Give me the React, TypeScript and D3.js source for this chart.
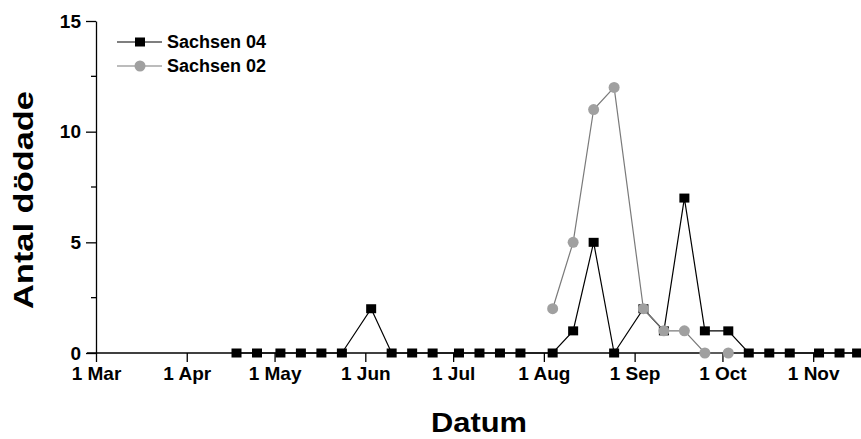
import React, { useRef, useEffect } from 'react';
import * as d3 from 'd3';

// weekly samples, Sachsen 04
const datesS04 = [
  '2004-04-18', '2004-04-25', '2004-05-03', '2004-05-10', '2004-05-17', '2004-05-24',
  '2004-06-03', '2004-06-10', '2004-06-17', '2004-06-24', '2004-07-03', '2004-07-10',
  '2004-07-17', '2004-07-24', '2004-08-04', '2004-08-11', '2004-08-18', '2004-08-25',
  '2004-09-04', '2004-09-11', '2004-09-18', '2004-09-25', '2004-10-03', '2004-10-10',
  '2004-10-17', '2004-10-24', '2004-11-03', '2004-11-10', '2004-11-16',
];
const valuesS04 = [
  0, 0, 0, 0, 0, 0,
  2, 0, 0, 0, 0, 0,
  0, 0, 0, 1, 5, 0,
  2, 1, 7, 1, 1, 0,
  0, 0, 0, 0, 0,
];

// Sachsen 02
const datesS02 = [
  '2004-08-04', '2004-08-11', '2004-08-18', '2004-08-25', '2004-09-04',
  '2004-09-11', '2004-09-18', '2004-09-25', '2004-10-03',
];
const valuesS02 = [2, 5, 11, 12, 2, 1, 1, 0, 0];

const seriesNames = ['Sachsen 04', 'Sachsen 02'];
const yTicks = [0, 5, 10, 15];
const yMinorTicks = [2.5, 7.5, 12.5];
const xTicks = [
  '2004-03-01', '2004-04-01', '2004-05-01', '2004-06-01', '2004-07-01',
  '2004-08-01', '2004-09-01', '2004-10-01', '2004-11-01',
];
const xStart = '2004-03-01';
const xEnd = '2004-12-01';

const W = 861;
const H = 439;
const FONT = 'Arial, "Liberation Sans", Helvetica, sans-serif';

const App: React.FC = () => {
  const ref = useRef<SVGSVGElement | null>(null);

  useEffect(() => {
    const svg = d3.select(ref.current);
    svg.selectAll('*').remove();

    const parse = d3.timeParse('%Y-%m-%d');
    const x = d3.scaleTime()
      .domain([parse(xStart)!, parse(xEnd)!])
      .range([96, 901]);
    const y = d3.scaleLinear().domain([0, 15]).range([353, 21]);

    // x axis
    const xAxis = d3.axisBottom<Date>(x)
      .tickValues(xTicks.map((d) => parse(d)!))
      .tickFormat(d3.timeFormat('%-d %b') as any)
      .tickSize(9)
      .tickPadding(5)
      .tickSizeOuter(0);
    const gx = svg.append('g').attr('transform', `translate(0,${y(0)})`).call(xAxis);
    gx.select('.domain').remove();
    gx.append('line')
      .attr('x1', 87).attr('x2', W).attr('y1', 0).attr('y2', 0)
      .attr('stroke', '#000').attr('stroke-width', 1.3);
    gx.selectAll('.tick line').attr('stroke', '#000').attr('stroke-width', 1.3);
    gx.selectAll('.tick text')
      .attr('fill', '#000')
      .style('font-family', FONT)
      .style('font-size', '19px')
      .style('font-weight', 'bold');

    // y axis
    const yAxis = d3.axisLeft(y)
      .tickValues(yTicks)
      .tickSize(10)
      .tickPadding(5)
      .tickSizeOuter(0);
    const gy = svg.append('g').attr('transform', `translate(96,0)`).call(yAxis);
    gy.select('.domain').attr('stroke', '#000').attr('stroke-width', 1.3);
    gy.selectAll('.tick line').attr('stroke', '#000').attr('stroke-width', 1.3);
    gy.selectAll('.tick text')
      .attr('fill', '#000')
      .style('font-family', FONT)
      .style('font-size', '19px')
      .style('font-weight', 'bold');
    gy.selectAll('line.minor')
      .data(yMinorTicks)
      .enter()
      .append('line')
      .attr('class', 'minor')
      .attr('x1', -5).attr('x2', 0)
      .attr('y1', (d) => y(d)).attr('y2', (d) => y(d))
      .attr('stroke', '#000').attr('stroke-width', 1.3);

    // axis titles
    svg.append('text')
      .attr('x', 479).attr('y', 432)
      .attr('text-anchor', 'middle')
      .style('font-family', FONT)
      .style('font-size', '27px')
      .style('font-weight', 'bold')
      .attr('textLength', 96)
      .attr('lengthAdjust', 'spacingAndGlyphs')
      .text('Datum');
    svg.append('text')
      .attr('transform', 'translate(33,200) rotate(-90)')
      .attr('text-anchor', 'middle')
      .style('font-family', FONT)
      .style('font-size', '27px')
      .style('font-weight', 'bold')
      .attr('textLength', 218)
      .attr('lengthAdjust', 'spacingAndGlyphs')
      .text('Antal dödade');

    const s04 = datesS04.map((d, i) => ({ date: parse(d)!, value: valuesS04[i] }));
    const s02 = datesS02.map((d, i) => ({ date: parse(d)!, value: valuesS02[i] }));

    const line = d3.line<{ date: Date; value: number }>()
      .x((d) => x(d.date))
      .y((d) => y(d.value));

    // Sachsen 04
    svg.append('path')
      .datum(s04)
      .attr('d', line)
      .attr('fill', 'none')
      .attr('stroke', '#000')
      .attr('stroke-width', 1.2);
    svg.selectAll('rect.s04')
      .data(s04)
      .enter()
      .append('rect')
      .attr('class', 's04')
      .attr('x', (d) => x(d.date) - 5)
      .attr('y', (d) => y(d.value) - 4.5)
      .attr('width', 10)
      .attr('height', 9)
      .attr('fill', '#000');

    // Sachsen 02
    svg.append('path')
      .datum(s02)
      .attr('d', line)
      .attr('fill', 'none')
      .attr('stroke', '#7a7a7a')
      .attr('stroke-width', 1.2);
    svg.selectAll('circle.s02')
      .data(s02)
      .enter()
      .append('circle')
      .attr('class', 's02')
      .attr('cx', (d) => x(d.date))
      .attr('cy', (d) => y(d.value))
      .attr('r', 5.5)
      .attr('fill', '#a0a0a0');

    // legend
    const lg = svg.append('g');
    seriesNames.forEach((name, i) => {
      const ly = 42 + i * 24;
      const gray = i === 1;
      lg.append('line')
        .attr('x1', 117).attr('x2', 162).attr('y1', ly).attr('y2', ly)
        .attr('stroke', gray ? '#7a7a7a' : '#000').attr('stroke-width', 1.2);
      if (gray) {
        lg.append('circle').attr('cx', 140).attr('cy', ly).attr('r', 5.5).attr('fill', '#a0a0a0');
      } else {
        lg.append('rect').attr('x', 135).attr('y', ly - 4.5).attr('width', 10).attr('height', 9).attr('fill', '#000');
      }
      lg.append('text')
        .attr('x', 167).attr('y', ly)
        .attr('dy', '0.35em')
        .style('font-family', FONT)
        .style('font-size', '18px')
        .style('font-weight', 'bold')
        .text(name);
    });
  }, []);

  return (
    <svg
      ref={ref}
      width={W}
      height={H}
      style={{ position: 'absolute', left: 0, top: 0, background: '#fff' }}
    />
  );
};

export default App;
